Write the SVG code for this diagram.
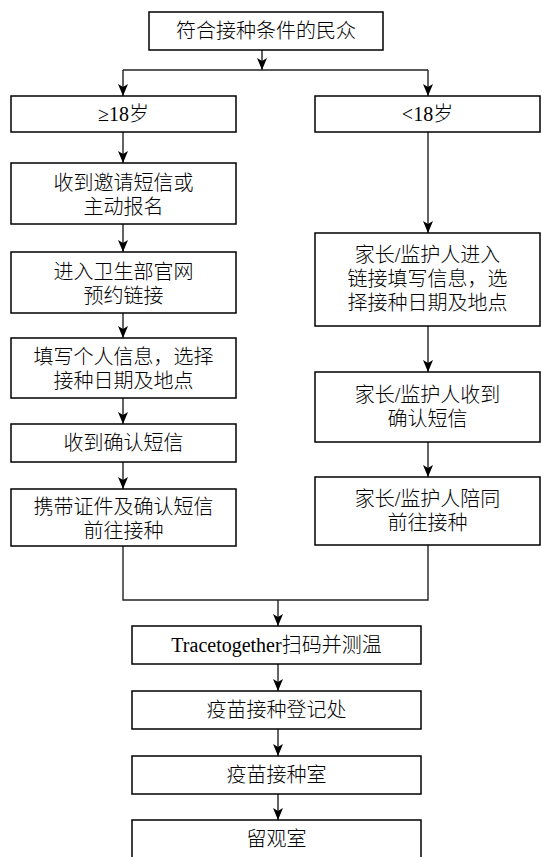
<svg xmlns="http://www.w3.org/2000/svg" width="542" height="857" viewBox="0 0 542 857">
<style>
.box{fill:#fff;stroke:#000;stroke-width:1.5}
.t{font-family:"Liberation Serif","Noto Sans CJK SC",serif;font-size:20px;font-weight:300;fill:#000;text-anchor:middle}
.c{fill:none;stroke:#222;stroke-width:1.4}
.a{marker-end:url(#arr)}
</style>
<defs>
<marker id="arr" markerUnits="userSpaceOnUse" viewBox="0 0 12 10" refX="12" refY="5" markerWidth="12" markerHeight="10" orient="auto">
<path d="M0,0 L12,5 L0,10 L3,5 z" fill="#000"/>
</marker>
</defs>
<rect width="542" height="857" fill="#fff"/>
<g id="connectors">
<line class="c a" x1="262" y1="50" x2="262" y2="70"/>
<line class="c" x1="123" y1="70" x2="428" y2="70"/>
<line class="c a" x1="123" y1="70" x2="123" y2="96"/>
<line class="c a" x1="428" y1="70" x2="428" y2="96"/>
<line class="c a" x1="123" y1="132" x2="123" y2="163"/>
<line class="c a" x1="123" y1="224" x2="123" y2="252"/>
<line class="c a" x1="123" y1="313" x2="123" y2="338"/>
<line class="c a" x1="123" y1="398" x2="123" y2="424"/>
<line class="c a" x1="123" y1="462" x2="123" y2="489"/>
<line class="c a" x1="428" y1="132" x2="428" y2="233"/>
<line class="c a" x1="428" y1="326" x2="428" y2="372"/>
<line class="c a" x1="428" y1="442" x2="428" y2="477"/>
<polyline class="c" points="123,546 123,600 428,600 428,545"/>
<line class="c a" x1="278" y1="600" x2="278" y2="626"/>
<line class="c a" x1="278" y1="664" x2="278" y2="691"/>
<line class="c a" x1="278" y1="729" x2="278" y2="756"/>
<line class="c a" x1="278" y1="794" x2="278" y2="820"/>
</g>
<g id="n-start"><rect class="box" x="149" y="12" width="234" height="38"/><text class="t" x="266" y="38">符合接种条件的民众</text></g>
<g id="n-adult"><rect class="box" x="11" y="96" width="225" height="36"/><text class="t" x="123.5" y="121">≥18岁</text></g>
<g id="n-minor"><rect class="box" x="315" y="96" width="225" height="36"/><text class="t" x="427.5" y="121">&lt;18岁</text></g>
<g id="n-a1"><rect class="box" x="11" y="163" width="225" height="61"/><text class="t" x="123.5" y="190">收到邀请短信或</text><text class="t" x="123.5" y="214">主动报名</text></g>
<g id="n-a2"><rect class="box" x="11" y="252" width="225" height="61"/><text class="t" x="123.5" y="279">进入卫生部官网</text><text class="t" x="123.5" y="303">预约链接</text></g>
<g id="n-a3"><rect class="box" x="11" y="338" width="225" height="60"/><text class="t" x="123.5" y="364">填写个人信息，选择</text><text class="t" x="123.5" y="388">接种日期及地点</text></g>
<g id="n-a4"><rect class="box" x="11" y="424" width="225" height="38"/><text class="t" x="123.5" y="450">收到确认短信</text></g>
<g id="n-a5"><rect class="box" x="11" y="489" width="225" height="57"/><text class="t" x="123.5" y="514">携带证件及确认短信</text><text class="t" x="123.5" y="538">前往接种</text></g>
<g id="n-m1"><rect class="box" x="315" y="233" width="225" height="93"/><text class="t" x="427.5" y="262">家长/监护人进入</text><text class="t" x="427.5" y="286">链接填写信息，选</text><text class="t" x="427.5" y="310">择接种日期及地点</text></g>
<g id="n-m2"><rect class="box" x="315" y="372" width="225" height="70"/><text class="t" x="427.5" y="402">家长/监护人收到</text><text class="t" x="427.5" y="426">确认短信</text></g>
<g id="n-m3"><rect class="box" x="315" y="477" width="225" height="68"/><text class="t" x="427.5" y="506">家长/监护人陪同</text><text class="t" x="427.5" y="530">前往接种</text></g>
<g id="n-scan"><rect class="box" x="132" y="626" width="289" height="38"/><text class="t" x="276.5" y="652">Tracetogether扫码并测温</text></g>
<g id="n-reg"><rect class="box" x="132" y="691" width="289" height="38"/><text class="t" x="276.5" y="717">疫苗接种登记处</text></g>
<g id="n-room"><rect class="box" x="132" y="756" width="289" height="38"/><text class="t" x="276.5" y="782">疫苗接种室</text></g>
<g id="n-obs"><rect class="box" x="132" y="820" width="289" height="50"/><text class="t" x="276.5" y="846">留观室</text></g>
</svg>
